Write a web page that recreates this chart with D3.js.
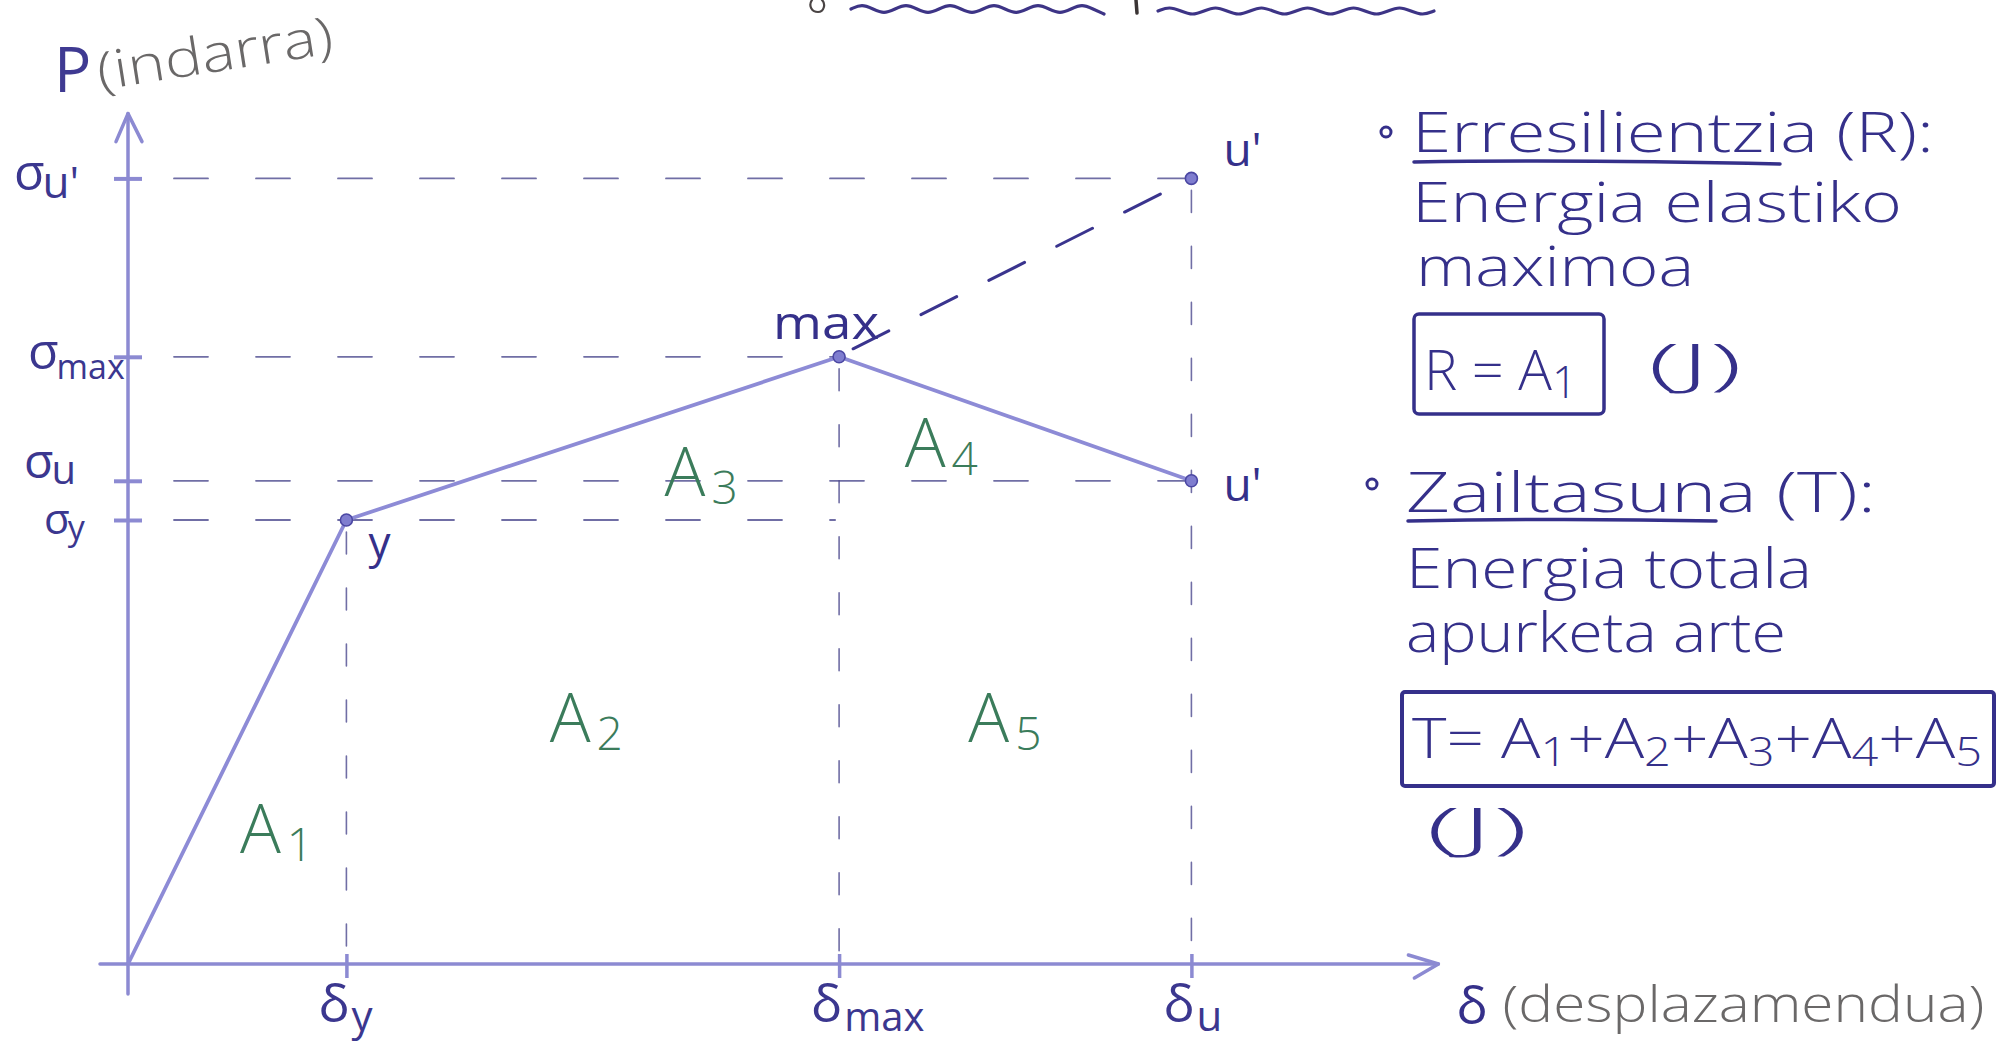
<!DOCTYPE html>
<html>
<head>
<meta charset="utf-8">
<script src="https://cdn.jsdelivr.net/npm/d3@7"></script>
<style>
  html, body { margin: 0; padding: 0; background: #ffffff; }
  svg { display: block; }
  text { font-family: "Open Sans", "Noto Sans", sans-serif; }
</style>
</head>
<body>
<svg id="chart" width="2015" height="1050"></svg>
<script>
// Idealised force–displacement curve: origin, yield, maximum and ultimate points
const pointKeys    = ["O", "Y", "max", "u"];
const displacement = [0, 16.8, 54.7, 81.8];
const force        = [0, 55.5, 75.9, 60.4];

// u' : projection of the hardening branch at the ultimate displacement
const projectedDisplacement = 81.8;
const projectedForce = 98.2;

// Force axis ticks (σ with subscript)
const forceTickValues = [98.2, 75.9, 60.4, 55.5];
const forceTickSubs   = ["u'", "max", "u", "y"];

// Displacement axis ticks (δ with subscript)
const dispTickValues = [16.8, 54.7, 81.8];
const dispTickSubs   = ["y", "max", "u"];

// Area names under the curve
const areaNames = ["A1", "A2", "A3", "A4", "A5"];

const svg = d3.select("#chart");

const x = d3.scaleLinear().domain([0, 100]).range([128, 1428]);
const y = d3.scaleLinear().domain([0, 100]).range([964, 164]);

const AXIS = "#8c8ad2";
const PEN = "#35308a";
const DASH = "#4c4a8e";
const GREEN = "#3b7c5b";
const GREY = "#6a6868";

const [dO, dY, dMax, dU] = displacement;
const [fO, fY, fMax, fU] = force;

// ---------- heading squiggles cut off at the top ----------
function wave(x0, x1, yMid, amp, period) {
  const pts = [];
  for (let px = x0; px <= x1; px += period / 4) {
    const k = Math.round((px - x0) / (period / 4)) % 4;
    const off = k === 1 ? -amp : k === 3 ? amp : 0;
    pts.push([px, yMid + off]);
  }
  return d3.line().curve(d3.curveBasis)(pts);
}
const heading = svg.append("g").attr("fill", "none").attr("stroke", "#3d3486")
  .attr("stroke-width", 3.2).attr("stroke-linecap", "round");
heading.append("path").attr("d", wave(851, 1112, 9, 5, 44));
heading.append("path").attr("d", wave(1158, 1434, 11, 4.5, 46));
heading.append("path").attr("d", "M1136,0 L1137,13").attr("stroke", "#3b3535").attr("stroke-width", 3.5);
heading.append("path").attr("d", "M812,0 C808,6 812,12 818,12 C824,12 826,4 822,0")
  .attr("stroke", "#4a4444").attr("stroke-width", 2.2);

// ---------- guide lines (dashed) ----------
const guides = svg.append("g").attr("fill", "none").attr("stroke", DASH)
  .attr("stroke-width", 1.8).attr("stroke-linecap", "round");

const hGuides = [
  { f: projectedForce, d: projectedDisplacement },
  { f: fMax, d: dMax },
  { f: fU, d: dU },
  { f: fY, d: dMax }
];
hGuides.forEach(g => {
  guides.append("line")
    .attr("x1", x(0) + 46).attr("x2", x(g.d) - 4)
    .attr("y1", y(g.f)).attr("y2", y(g.f))
    .attr("stroke-dasharray", "34 48")
    .attr("opacity", 0.8);
});

const vGuides = [
  { d: dY, f: fY },
  { d: dMax, f: fMax },
  { d: dU, f: projectedForce }
];
vGuides.forEach(g => {
  guides.append("line")
    .attr("x1", x(g.d)).attr("x2", x(g.d))
    .attr("y1", y(g.f) + 12).attr("y2", y(0) - 4)
    .attr("stroke-dasharray", "22 34")
    .attr("stroke-width", 1.6)
    .attr("opacity", 0.8);
});

// dashed extension max -> u'
svg.append("line")
  .attr("x1", x(dMax) + 14).attr("y1", y(fMax) - 8)
  .attr("x2", x(projectedDisplacement) - 4).attr("y2", y(projectedForce) + 2)
  .attr("stroke", "#3a348e").attr("stroke-width", 3)
  .attr("stroke-dasharray", "40 36").attr("stroke-linecap", "round");

// ---------- axes ----------
const yAxis = d3.axisLeft(y).tickValues(forceTickValues).tickFormat("").tickSize(14);
const xAxis = d3.axisBottom(x).tickValues(dispTickValues).tickFormat("").tickSize(14);

const gy = svg.append("g").attr("transform", `translate(${x(0)},0)`).call(yAxis);
gy.select(".domain").remove();
gy.selectAll(".tick line").attr("x1", -14).attr("x2", 14)
  .attr("stroke", AXIS).attr("stroke-width", 4);

const gx = svg.append("g").attr("transform", `translate(0,${y(0)})`).call(xAxis);
gx.select(".domain").remove();
gx.selectAll(".tick line").attr("y1", -10).attr("y2", 14)
  .attr("stroke", AXIS).attr("stroke-width", 3.5);

const axes = svg.append("g").attr("fill", "none").attr("stroke", AXIS)
  .attr("stroke-width", 3.5).attr("stroke-linecap", "round").attr("stroke-linejoin", "round");
axes.append("line").attr("x1", x(0)).attr("x2", x(0)).attr("y1", y(0) + 30).attr("y2", y(106.3));
axes.append("polyline").attr("points",
  `${x(0) - 12},${y(106.3) + 28} ${x(0)},${y(106.3)} ${x(0) + 14},${y(106.3) + 28}`);
axes.append("line").attr("x1", x(0) - 28).attr("x2", x(100.8)).attr("y1", y(0)).attr("y2", y(0));
axes.append("polyline").attr("points",
  `${x(100.8) - 30},${y(0) - 9} ${x(100.8)},${y(0)} ${x(100.8) - 24},${y(0) + 14}`);

// ---------- the curve ----------
const curvePts = displacement.map((d, i) => [x(d), y(force[i])]);
svg.append("path")
  .attr("d", d3.line()(curvePts))
  .attr("fill", "none").attr("stroke", "#8d8bd6").attr("stroke-width", 3.8)
  .attr("stroke-linejoin", "round");

// markers
const markerPts = displacement.slice(1).map((d, i) => [d, force[i + 1]])
  .concat([[projectedDisplacement, projectedForce]]);
svg.append("g").selectAll("circle").data(markerPts).join("circle")
  .attr("cx", d => x(d[0])).attr("cy", d => y(d[1])).attr("r", 6)
  .attr("fill", "#7f7dcf").attr("stroke", "#4b47a3").attr("stroke-width", 1.6);

// ---------- point labels ----------
const labels = svg.append("g").attr("fill", PEN).attr("font-weight", 400);
labels.append("text").attr("x", x(dY) + 22).attr("y", y(fY) + 38)
  .attr("font-size", 44).text("y");
labels.append("text").attr("x", x(dMax) - 66).attr("y", y(fMax) - 18)
  .attr("font-size", 46).attr("textLength", 106).attr("lengthAdjust", "spacingAndGlyphs").text("max");
labels.append("text").attr("x", x(projectedDisplacement) + 32).attr("y", y(projectedForce) - 12)
  .attr("font-size", 46).text("u'");
labels.append("text").attr("x", x(dU) + 32).attr("y", y(fU) + 20)
  .attr("font-size", 46).text("u'");

// ---------- tick labels ----------
const tickLab = svg.append("g").attr("fill", "#3b378f");
const forceLabelX = [14, 28, 24, 44];
const forceBaseShift = [12, 12, -3, 14];
const forceSubShift = [8, 10, 6, 6];
const forceSize = [50, 50, 48, 42];
const forceSubSize = [44, 34, 40, 34];
forceTickValues.forEach((v, i) => {
  const t = tickLab.append("text").attr("x", forceLabelX[i]).attr("y", y(v) + forceBaseShift[i])
    .attr("font-size", forceSize[i]);
  t.append("tspan").text("σ");
  t.append("tspan").attr("dy", forceSubShift[i])
    .attr("font-size", forceSubSize[i]).attr("dx", -2).text(forceTickSubs[i]);
});

dispTickValues.forEach((v, i) => {
  const t = tickLab.append("text").attr("x", x(v) - 28).attr("y", y(0) + 58)
    .attr("font-size", 52);
  t.append("tspan").text("δ");
  t.append("tspan").attr("dy", 9).attr("font-size", i === 1 ? 40 : 42).attr("dx", 2)
    .text(dispTickSubs[i]);
});

// axis titles
svg.append("text").attr("x", 54).attr("y", 92).attr("fill", "#3f3a92").attr("font-size", 62)
  .text("P");
svg.append("text").attr("transform", "translate(100,90) rotate(-9)")
  .attr("fill", GREY).attr("font-size", 52).attr("font-weight", 300)
  .attr("textLength", 238).attr("lengthAdjust", "spacingAndGlyphs").text("(indarra)");

svg.append("text").attr("x", x(100.8) + 18).attr("y", y(0) + 60)
  .attr("fill", PEN).attr("font-size", 52).text("δ");
svg.append("text").attr("x", x(100.8) + 64).attr("y", y(0) + 58)
  .attr("fill", GREY).attr("font-size", 50).attr("font-weight", 300)
  .attr("textLength", 482).attr("lengthAdjust", "spacingAndGlyphs").text("(desplazamendua)");

// ---------- area names ----------
const areaAnchors = [
  [dY * 0.68, fY * 0.25],
  [(dY + dMax) / 2 - 0.5, fY * 0.5],
  [dY + (dMax - dY) * 0.72, fY + (fMax - fY) * 0.15],
  [dMax + (dU - dMax) * 0.29, fU + (fMax - fU) * 0.11],
  [(dMax + dU) / 2 - 0.8, fY * 0.5]
];
const areaG = svg.append("g").attr("fill", GREEN).attr("font-weight", 300);
areaNames.forEach((n, i) => {
  const t = areaG.append("text").attr("x", x(areaAnchors[i][0])).attr("y", y(areaAnchors[i][1]))
    .attr("text-anchor", "middle").attr("font-size", 68);
  t.append("tspan").text(n[0]);
  t.append("tspan").attr("dy", 8).attr("dx", 6).attr("font-size", 46).text(n.slice(1));
});

// ---------- definitions block ----------
const notes = svg.append("g").attr("fill", PEN).attr("font-weight", 300);

function noteLine(txt, xx, yy, len, size) {
  return notes.append("text").attr("x", xx).attr("y", yy).attr("font-size", size || 56)
    .attr("textLength", len).attr("lengthAdjust", "spacingAndGlyphs").text(txt);
}

// Resilience
notes.append("circle").attr("cx", 1386).attr("cy", 132).attr("r", 5)
  .attr("fill", "none").attr("stroke", PEN).attr("stroke-width", 3);
noteLine("Erresilientzia (R):", 1412, 152, 522);
notes.append("path").attr("d", "M1414,162 C1530,160 1650,161 1780,164")
  .attr("fill", "none").attr("stroke", PEN).attr("stroke-width", 3.5).attr("stroke-linecap", "round");
noteLine("Energia elastiko", 1412, 222, 490);
noteLine("maximoa", 1416, 286, 278);

notes.append("rect").attr("x", 1414).attr("y", 314).attr("width", 190).attr("height", 100)
  .attr("rx", 5).attr("fill", "none").attr("stroke", PEN).attr("stroke-width", 3.5);
const rEq = notes.append("text").attr("x", 1424).attr("y", 390).attr("font-size", 56);
rEq.append("tspan").text("R = A");
rEq.append("tspan").attr("dy", 8).attr("font-size", 44).text("1");
noteLine("(J)", 1648, 384, 94);

// Toughness
notes.append("circle").attr("cx", 1372).attr("cy", 484).attr("r", 5)
  .attr("fill", "none").attr("stroke", PEN).attr("stroke-width", 3);
noteLine("Zailtasuna (T):", 1406, 512, 470);
notes.append("path").attr("d", "M1408,521 C1510,519 1620,519 1716,521")
  .attr("fill", "none").attr("stroke", PEN).attr("stroke-width", 3.5).attr("stroke-linecap", "round");
noteLine("Energia totala", 1406, 588, 406);
noteLine("apurketa arte", 1406, 652, 380);

notes.append("rect").attr("x", 1402).attr("y", 692).attr("width", 592).attr("height", 94)
  .attr("rx", 3).attr("fill", "none").attr("stroke", PEN).attr("stroke-width", 4);
const tEq = notes.append("text").attr("x", 1412).attr("y", 758).attr("font-size", 56);
tEq.append("tspan").text("T= ");
areaNames.forEach((n, i) => {
  tEq.append("tspan").attr("dy", i === 0 ? 0 : -8).text((i ? "+" : "") + n[0]);
  tEq.append("tspan").attr("dy", 8).attr("font-size", 40).text(n.slice(1));
});
tEq.attr("textLength", 570).attr("lengthAdjust", "spacingAndGlyphs");
noteLine("(J)", 1426, 848, 102);
</script>
</body>
</html>
